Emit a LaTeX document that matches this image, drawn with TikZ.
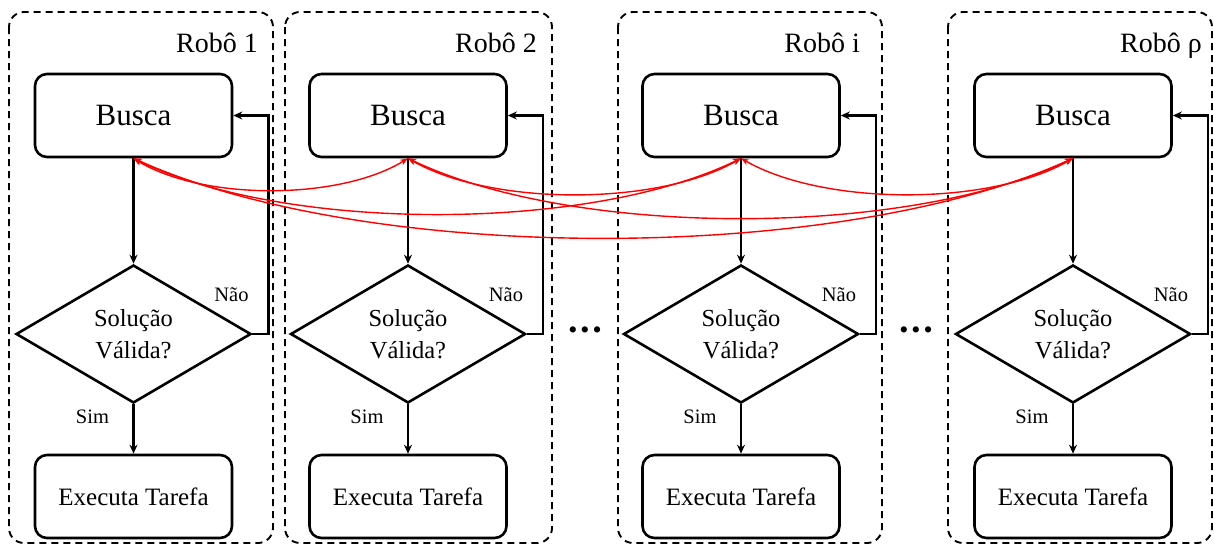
\documentclass[tikz,border=0pt]{standalone}
\usepackage{fontspec}
\setmainfont{Liberation Serif}
\usetikzlibrary{arrows.meta,shapes.geometric}
\begin{document}
\begin{tikzpicture}[x=1pt,y=-1pt,
  container/.style={draw, dash pattern=on 7pt off 5pt, line width=1.9pt, rounded corners=15pt},
  procbox/.style={draw, line width=2.6pt, rounded corners=12pt, minimum width=197pt, minimum height=83pt, inner sep=0pt},
  decision/.style={draw, diamond, aspect=1.7, line width=2.6pt, minimum width=235pt, minimum height=138pt, inner sep=0pt, align=center, font=\fontsize{24.5}{32}\selectfont},
  flow/.style={line width=2.6pt, -{Stealth[length=9pt,width=8pt]}},
  link/.style={draw=red, line width=1.4pt, {Stealth[length=8pt,width=6pt]}-{Stealth[length=8pt,width=6pt]}},
  robolabel/.style={anchor=base east, font=\fontsize{28}{28}\selectfont, inner sep=0pt},
  buscatext/.style={font=\fontsize{31}{31}\selectfont},
  exectext/.style={font=\fontsize{25}{25}\selectfont},
  answer/.style={font=\fontsize{20.5}{20.5}\selectfont, inner sep=0pt},
  dots/.style={font=\fontsize{26}{26}\selectfont, inner sep=0pt}
]
\useasboundingbox (0,0) rectangle (1214,547);

% containers
\draw[container] (9,12) rectangle (273,543);
\draw[container] (285,12) rectangle (552,543);
\draw[container] (618,12) rectangle (882,543);
\draw[container] (948,12) rectangle (1212,543);

\node[robolabel] (l1) at (258,52) {Robô 1};
\node[robolabel] (l2) at (537,52) {Robô 2};
\node[robolabel] (l3) at (860,52) {Robô i};
\node[robolabel] (l4) at (1202,52) {Robô ρ};

% columns
\foreach \i/\x in {1/133.5, 2/408, 3/741, 4/1073} {
  \node[procbox, buscatext] (b\i) at (\x,115.5) {Busca};
  \node[decision] (d\i) at (\x,334) {Solução\\Válida?};
  \node[procbox, exectext] (e\i) at (\x,496.5) {Executa Tarefa};
  \coordinate (r\i) at (\x+135,0);
  \node[answer] (n\i) at (\x+98,295) {Não};
  \node[answer] (s\i) at (\x-41,417) {Sim};
  \draw[flow] (b\i.south) -- (d\i.north);
  \draw[flow] (d\i.south) -- (e\i.north);
  \draw[flow] (d\i.east) -- (d\i.east -| r\i) -- (b\i.east -| r\i) -- (b\i.east);
}

\node[dots] (dotsA) at (585,333) {•\hspace{3pt}•\hspace{3pt}•};
\node[dots] (dotsB) at (916,333) {•\hspace{3pt}•\hspace{3pt}•};

% communication links
\draw[link] (b1.south) .. controls +(68.6,42.4) and +(-68.6,42.4) .. (b2.south);
\draw[link] (b1.south) .. controls +(151.9,74.3) and +(-151.9,74.3) .. (b3.south);
\draw[link] (b1.south) .. controls +(234.9,106.1) and +(-234.9,106.1) .. (b4.south);
\draw[link] (b2.south) .. controls +(83.25,48) and +(-83.25,48) .. (b3.south);
\draw[link] (b2.south) .. controls +(166.25,79.8) and +(-166.25,79.8) .. (b4.south);
\draw[link] (b3.south) .. controls +(83,47.9) and +(-83,47.9) .. (b4.south);
\end{tikzpicture}
\end{document}
